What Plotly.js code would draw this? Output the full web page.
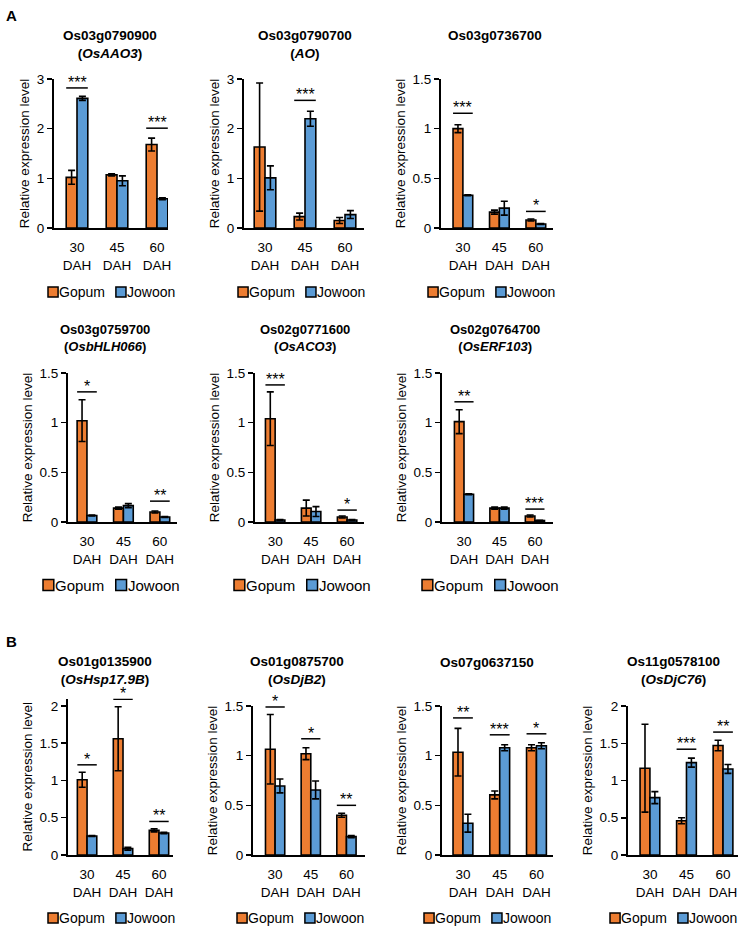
<!DOCTYPE html>
<html><head><meta charset="utf-8">
<script src="https://cdn.plot.ly/plotly-3.0.1.min.js"></script>
<style>html,body{margin:0;padding:0;background:#fff}</style>
</head><body><div id="chart" style="width:742px;height:928px"></div>
<script>
// ---------- data ----------
const categories = ['30 DAH', '45 DAH', '60 DAH'];
const tickLabels = ['30<br>DAH', '45<br>DAH', '60<br>DAH'];
const seriesNames = ['Gopum', 'Jowoon'];
const geneIds = ['Os03g0790900', 'Os03g0790700', 'Os03g0736700', 'Os03g0759700', 'Os02g0771600',
                 'Os02g0764700', 'Os01g0135900', 'Os01g0875700', 'Os07g0637150', 'Os11g0578100'];
const geneNames = ['OsAAO3', 'AO', '', 'OsbHLH066', 'OsACO3', 'OsERF103', 'OsHsp17.9B', 'OsDjB2', '', 'OsDjC76'];

const gopum = [
  [1.02, 1.07, 1.68], [1.63, 0.23, 0.15], [1.00, 0.16, 0.08],
  [1.02, 0.14, 0.10], [1.04, 0.14, 0.05], [1.01, 0.14, 0.06],
  [1.01, 1.56, 0.33], [1.065, 1.02, 0.40], [1.035, 0.605, 1.08], [1.165, 0.46, 1.47]
];
const gopumErr = [
  [0.14, 0.02, 0.13], [1.29, 0.07, 0.06], [0.04, 0.02, 0.01],
  [0.21, 0.01, 0.01], [0.27, 0.08, 0.01], [0.12, 0.01, 0.01],
  [0.10, 0.43, 0.02], [0.35, 0.06, 0.02], [0.24, 0.04, 0.03], [0.59, 0.04, 0.07]
];
const jowoon = [
  [2.61, 0.95, 0.59], [1.01, 2.20, 0.27], [0.33, 0.20, 0.04],
  [0.065, 0.165, 0.05], [0.02, 0.105, 0.02], [0.28, 0.14, 0.015],
  [0.255, 0.085, 0.295], [0.695, 0.655, 0.185], [0.32, 1.08, 1.10], [0.77, 1.24, 1.155]
];
const jowoonErr = [
  [0.04, 0.10, 0.02], [0.24, 0.15, 0.08], [0.005, 0.07, 0.005],
  [0.005, 0.02, 0.005], [0.005, 0.05, 0.005], [0.005, 0.01, 0.003],
  [0.005, 0.02, 0.01], [0.07, 0.09, 0.01], [0.09, 0.03, 0.03], [0.08, 0.06, 0.06]
];
const sigLevel = [
  [2.82, null, 2.01], [null, 2.57, null], [1.155, null, 0.167],
  [1.31, null, 0.21], [1.38, null, 0.12], [1.21, null, 0.13],
  [1.21, 2.09, 0.45], [1.49, 1.17, 0.50], [1.38, 1.21, 1.22], [null, 1.42, 1.65]
];
const sigMark = [
  ['***', '', '***'], ['', '***', ''], ['***', '', '*'],
  ['*', '', '**'], ['***', '', '*'], ['**', '', '***'],
  ['*', '*', '**'], ['*', '*', '**'], ['**', '***', '*'], ['', '***', '**']
];
const yMax = [3, 3, 1.5, 1.5, 1.5, 1.5, 2.1, 1.5, 1.5, 2];
const yDtick = [1, 1, 0.5, 0.5, 0.5, 0.5, 0.5, 0.5, 0.5, 0.5];

// ---------- layout geometry (pixels) ----------
const W = 742, H = 928;
const colors = ['#ED7D31', '#5B9BD5'];
const FONT = 'Liberation Sans, Arial, sans-serif';
// left, right, topPx, zeroPx, xr0, xr1, titleX, titleY, legLeft, legY, legFont, titleFont
const geom = [
  [54, 168, 79, 228, -0.575, 2.275, 110, 44, 48, 292, 14, 13.5],
  [244, 364, 79, 228, -0.525, 2.475, 305, 44, 238, 292, 14, 13.5],
  [441, 553, 79, 228, -0.60, 2.47, 495, 35, 428, 292, 14, 13.5],
  [68, 177, 373, 522, -0.52, 2.47, 105, 338, 43, 585, 15, 13],
  [255, 364, 373, 522, -0.56, 2.47, 305, 338, 234, 585, 15, 13],
  [442, 553, 373, 522, -0.62, 2.51, 495, 338, 422, 585, 15, 13],
  [68, 173, 698.5, 855, -0.53, 2.39, 105, 670, 48, 918, 14, 13.5],
  [253, 365, 706, 855, -0.62, 2.52, 297, 670, 237, 918, 14, 13.5],
  [442, 553, 706, 855, -0.57, 2.45, 487, 662, 424, 918, 14, 13.5],
  [628, 738, 706, 855, -0.60, 2.41, 673, 670, 610, 918, 14, 13.5]
];
const BARGAP = 0.46;
const half = (1 - BARGAP) / 2;

const traces = [];
const layout = {
  width: W, height: H,
  margin: {l: 0, r: 0, t: 0, b: 0},
  paper_bgcolor: '#ffffff', plot_bgcolor: 'rgba(0,0,0,0)',
  font: {family: FONT, color: '#000', size: 13},
  barmode: 'group', bargap: BARGAP, bargroupgap: 0,
  showlegend: false,
  shapes: [], annotations: []
};

for (let k = 0; k < 10; k++) {
  const g = geom[k];
  const sfx = k === 0 ? '' : String(k + 1);
  const xa = 'x' + sfx, ya = 'y' + sfx;
  const vals = [gopum[k], jowoon[k]];
  const errs = [gopumErr[k], jowoonErr[k]];
  for (let s = 0; s < 2; s++) {
    traces.push({
      type: 'bar', name: seriesNames[s], x: categories, y: vals[s],
      xaxis: xa, yaxis: ya,
      marker: {color: colors[s], line: {color: '#000', width: 1.6}},
      error_y: {type: 'data', array: errs[s], visible: true, color: '#000', thickness: 1.6, width: 3.5},
      hoverinfo: 'y'
    });
  }
  layout['xaxis' + sfx] = {
    domain: [g[0] / W, g[1] / W], anchor: ya, type: 'category',
    range: [g[4], g[5]], showline: true, linecolor: '#000', linewidth: 2,
    ticks: '', tickvals: categories, ticktext: tickLabels,
    tickfont: {size: 13.5, family: FONT}, ticklabelstandoff: 6,
    showgrid: false, zeroline: false, fixedrange: true
  };
  layout['yaxis' + sfx] = {
    domain: [1 - g[3] / H, 1 - g[2] / H], anchor: xa,
    range: [0, yMax[k]], dtick: yDtick[k], tick0: 0,
    showline: true, linecolor: '#000', linewidth: 2,
    ticks: 'outside', ticklen: 5, tickwidth: 1.5, tickcolor: '#000',
    tickfont: {size: 13.5, family: FONT},
    showgrid: false, zeroline: false, fixedrange: true,
    title: {text: 'Relative expression level', font: {size: 13.5, family: FONT}, standoff: 4}
  };
  // legend (one per panel): square key + series name
  const fs = g[10];
  const sq = fs * 0.72;
  let lx = g[8];
  for (let s = 0; s < 2; s++) {
    layout.shapes.push({
      type: 'rect', xref: 'paper', yref: 'paper',
      x0: lx / W, x1: (lx + sq) / W, y0: 1 - (g[9] + sq / 2) / H, y1: 1 - (g[9] - sq / 2) / H,
      fillcolor: colors[s], line: {color: '#000', width: 1.5}
    });
    layout.annotations.push({
      xref: 'paper', yref: 'paper', x: (lx + sq) / W, y: 1 - g[9] / H,
      xanchor: 'left', yanchor: 'middle', text: seriesNames[s], showarrow: false,
      font: {size: fs, family: FONT}, borderpad: 0
    });
    lx += fs * 4.85;
  }
  // gene title
  const ttl = '<b>' + geneIds[k] + '</b>' + (geneNames[k] ? '<br><b>(<i>' + geneNames[k] + '</i>)</b>' : '');
  layout.annotations.push({
    xref: 'paper', yref: 'paper', x: g[6] / W, y: 1 - g[7] / H,
    xanchor: 'center', yanchor: 'middle', text: ttl, showarrow: false,
    font: {size: g[11], family: FONT}
  });
  // significance
  for (let i = 0; i < 3; i++) {
    const lv = sigLevel[k][i];
    if (lv === null) continue;
    layout.shapes.push({
      type: 'line', xref: xa, yref: ya, x0: i - half, x1: i + half, y0: lv, y1: lv,
      line: {color: '#000', width: 1.5}
    });
    layout.annotations.push({
      xref: xa, yref: ya, x: categories[i], y: lv, text: sigMark[k][i],
      showarrow: false, xanchor: 'center', yanchor: 'bottom', yshift: -5,
      font: {size: 16, family: FONT}
    });
  }
}
// panel labels
layout.annotations.push({xref: 'paper', yref: 'paper', x: 4 / W, y: 1 - 15 / H, xanchor: 'left', yanchor: 'middle',
  text: '<b>A</b>', showarrow: false, font: {size: 15, family: FONT}});
layout.annotations.push({xref: 'paper', yref: 'paper', x: 4 / W, y: 1 - 641 / H, xanchor: 'left', yanchor: 'middle',
  text: '<b>B</b>', showarrow: false, font: {size: 15, family: FONT}});

Plotly.newPlot('chart', traces, layout, {staticPlot: true, displayModeBar: false});
</script></body></html>
